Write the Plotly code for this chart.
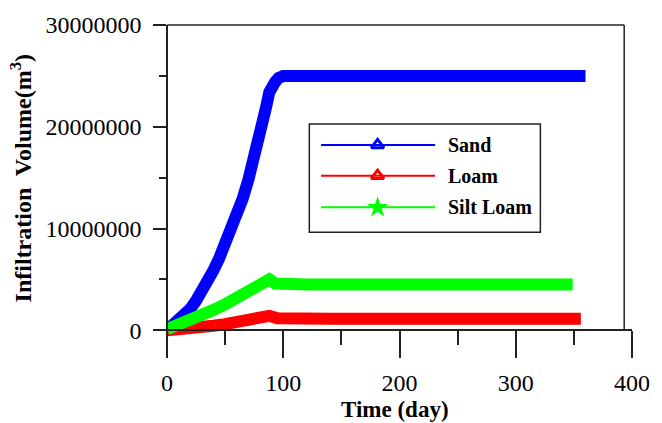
import plotly.graph_objects as go

# Cumulative infiltration volume (m^3) against time (day) for three soil types
sand_days = [0, 5, 10, 15, 20, 25, 30, 35, 40, 45, 50, 55, 60, 65, 70, 75, 80, 85, 88, 90, 93, 96, 100,
             120, 140, 160, 180, 200, 220, 240, 260, 280, 300, 320, 340, 360]
sand_vol = [0.0, 0.45e6, 0.85e6, 1.4e6, 2.1e6, 2.9e6, 3.8e6, 4.8e6, 5.9e6, 7.1e6, 8.4e6, 9.7e6, 11.2e6,
            12.9e6, 14.8e6, 16.8e6, 19.1e6, 21.8e6, 23.4e6, 24.0e6, 24.4e6, 24.8e6, 25.0e6,
            25.0e6, 25.0e6, 25.0e6, 25.0e6, 25.0e6, 25.0e6, 25.0e6, 25.0e6, 25.0e6, 25.0e6, 25.0e6, 25.0e6, 25.0e6]

loam_days = [0, 10, 20, 30, 40, 50, 60, 70, 80, 88, 95, 100,
             120, 140, 160, 180, 200, 220, 240, 260, 280, 300, 320, 340, 356]
loam_vol = [0.0, 0.05e6, 0.15e6, 0.3e6, 0.45e6, 0.6e6, 0.75e6, 0.95e6, 1.15e6, 1.42e6, 1.17e6, 1.14e6,
            1.14e6, 1.14e6, 1.14e6, 1.14e6, 1.14e6, 1.14e6, 1.14e6, 1.14e6, 1.14e6, 1.14e6, 1.14e6, 1.14e6, 1.14e6]

silt_days = [0, 10, 20, 30, 40, 50, 60, 70, 80, 88, 93, 100,
             120, 140, 160, 180, 200, 220, 240, 260, 280, 300, 320, 340, 349]
silt_vol = [0.1e6, 0.5e6, 0.95e6, 1.45e6, 2.0e6, 2.55e6, 3.15e6, 3.8e6, 4.45e6, 5.0e6, 4.6e6, 4.5e6,
            4.5e6, 4.5e6, 4.5e6, 4.5e6, 4.5e6, 4.5e6, 4.5e6, 4.5e6, 4.5e6, 4.5e6, 4.5e6, 4.5e6, 4.5e6]

series = [
    ("Sand", sand_days, sand_vol, "#0000FF", "triangle-up-open", 11),
    ("Loam", loam_days, loam_vol, "#FF0000", "triangle-up-open", 11),
    ("Silt Loam", silt_days, silt_vol, "#00FF00", "star", 16),
]

x_ticks = [0, 100, 200, 300, 400]
y_ticks = [0, 10000000, 20000000, 30000000]

W, H = 662, 423
ML, MR, MT, MB = 167, 18, 22, 66
PW, PH = W - ML - MR, H - MT - MB

FONT = "Liberation Serif, Times New Roman, serif"
AXC = "#222222"

# x axis sits at y = 0, a little above the bottom of the plotting area
x_axis_px = 330
x_pos = (H - MB - x_axis_px) / PH
y_top = 30000000
y_bot = -y_top * x_pos / (1 - x_pos)


def px_x(p):
    return (p - ML) / PW


def px_y(p):
    return (H - MB - p) / PH


fig = go.Figure()

for name, d, v, color, sym, msz in series:
    fig.add_trace(go.Scatter(
        x=d, y=v, mode="lines", name=name, showlegend=False,
        line=dict(color=color, width=12),
    ))

# hand-built legend drawn on an overlay axis measured in pixels
legend_rows = [143, 174, 206]
for (name, d, v, color, sym, msz), ry in zip(series, legend_rows):
    fig.add_trace(go.Scatter(
        x=[325, 442], y=[ry, ry], mode="lines", xaxis="x2", yaxis="y2",
        line=dict(color=color, width=2), showlegend=False, hoverinfo="skip",
    ))
    fig.add_trace(go.Scatter(
        x=[383], y=[ry], mode="markers", xaxis="x2", yaxis="y2",
        marker=dict(symbol=sym, size=msz, color=color,
                    line=dict(color=color, width=3 if "open" in sym else 0)),
        showlegend=False, hoverinfo="skip",
    ))
    fig.add_annotation(
        x=453, y=ry, xref="x2", yref="y2", text="<b>%s</b>" % name, showarrow=False,
        xanchor="left", yanchor="middle", font=dict(family=FONT, size=20, color="black"),
    )

shapes = [
    # top border of the frame
    dict(type="line", xref="paper", yref="paper", x0=0, x1=px_x(636), y0=1, y1=1,
         line=dict(color=AXC, width=1.5)),
    # right border of the frame
    dict(type="line", xref="paper", yref="paper", x0=px_x(636), x1=px_x(636), y0=x_pos, y1=1,
         line=dict(color=AXC, width=1.5)),
    # legend box
    dict(type="rect", xref="paper", yref="paper", x0=px_x(313), x1=px_x(550), y0=px_y(231), y1=px_y(122),
         line=dict(color=AXC, width=1.5), fillcolor="rgba(0,0,0,0)"),
]

fig.update_layout(
    width=W, height=H,
    margin=dict(l=ML, r=MR, t=MT, b=MB),
    paper_bgcolor="white", plot_bgcolor="white",
    shapes=shapes,
    xaxis=dict(
        range=[0, 400], anchor="free", position=x_pos,
        tickvals=x_ticks, ticktext=[str(t) for t in x_ticks],
        ticks="outside", ticklen=27, tickwidth=1.5, tickcolor=AXC,
        minor=dict(tickvals=[50, 150, 250, 350], ticks="outside", ticklen=14, tickwidth=1.5, tickcolor=AXC),
        showline=True, linecolor=AXC, linewidth=1.5,
        showgrid=False, zeroline=False, ticklabelstandoff=4,
        tickfont=dict(family=FONT, size=24, color="black"),
    ),
    yaxis=dict(
        range=[y_bot, y_top * 1.0002], anchor="free", position=0,
        tickvals=y_ticks, ticktext=[str(t) for t in y_ticks],
        ticks="outside", ticklen=13, tickwidth=1.5, tickcolor=AXC,
        minor=dict(tickvals=[5000000, 15000000, 25000000], ticks="outside", ticklen=7, tickwidth=1.5, tickcolor=AXC),
        showline=True, linecolor=AXC, linewidth=1.5,
        showgrid=False, zeroline=False, ticklabelstandoff=7,
        tickfont=dict(family=FONT, size=24, color="black"),
    ),
    xaxis2=dict(range=[ML, W - MR], domain=[0, 1], anchor="y2", overlaying="x", visible=False, fixedrange=True),
    yaxis2=dict(range=[H - MB, MT], domain=[0, 1], anchor="x2", overlaying="y", visible=False, fixedrange=True),
)

fig.add_annotation(
    x=px_x(17), y=px_y(177), xref="paper", yref="paper", textangle=-90, showarrow=False,
    text="<b>Infiltration  Volume(m<sup>3</sup>)</b>", xanchor="center", yanchor="middle",
    font=dict(family=FONT, size=24, color="black"),
)
fig.add_annotation(
    x=px_x(401), y=px_y(410), xref="paper", yref="paper", showarrow=False,
    text="<b>Time (day)</b>", xanchor="center", yanchor="middle",
    font=dict(family=FONT, size=23, color="black"),
)

fig.write_html("out.html")
